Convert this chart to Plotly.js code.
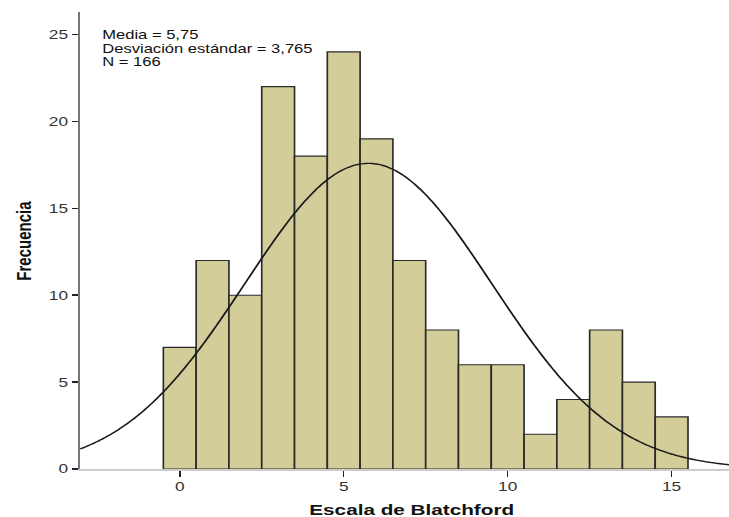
<!DOCTYPE html>
<html>
<head>
<meta charset="utf-8">
<script src="https://cdn.plot.ly/plotly-3.0.1.min.js"></script>
<style>
  html, body { margin: 0; padding: 0; background: #fff; overflow: hidden; }
  /* chart is laid out narrower and widened horizontally as a whole */
  #chart { width: 528px; height: 517px; transform: scaleX(1.38068); transform-origin: 0 0; }
</style>
</head>
<body>
<div id="chart"></div>
<script>
// Blatchford score histogram with fitted normal curve
const scores = [0, 1, 2, 3, 4, 5, 6, 7, 8, 9, 10, 11, 12, 13, 14, 15];
const counts = [7, 12, 10, 22, 18, 24, 19, 12, 8, 6, 6, 2, 4, 8, 5, 3];
const xTicks = [0, 5, 10, 15];
const yTicks = [0, 5, 10, 15, 20, 25];

// Summary statistics shown in the top-left box
const mean = 5.75;
const sd = 3.765;
const n = 166;
const binWidth = 1;
const statLines = ['Media = 5,75', 'Desviación estándar = 3,765', 'N = 166'];

// Normal curve scaled to counts, sampled along the x range
const xMin = -3.04, xMax = 16.75;
const curveX = [], curveY = [];
for (let i = 0; i <= 300; i++) {
  const x = xMin + (xMax - xMin) * i / 300;
  const z = (x - mean) / sd;
  curveX.push(x);
  curveY.push(n * binWidth / (sd * Math.sqrt(2 * Math.PI)) * Math.exp(-0.5 * z * z));
}

const bars = {
  type: 'bar',
  x: scores,
  y: counts,
  width: 1,
  marker: { color: '#D3CE99', line: { color: '#2a2a2a', width: 1.2 } },
  hoverinfo: 'x+y'
};

const curve = {
  type: 'scatter',
  mode: 'lines',
  x: curveX,
  y: curveY,
  line: { color: '#1a1a1a', width: 1.4, shape: 'spline' },
  hoverinfo: 'skip'
};

const textFont = 'Liberation Sans, Arial, sans-serif';
const plotTop = 12, plotH = 457;
const paperY = px => 1 - (px - plotTop) / plotH;

const statAnnotations = statLines.map((t, i) => ({
  xref: 'paper', yref: 'paper',
  x: 0.030, y: paperY(35 + i * 13.5),
  xanchor: 'left', yanchor: 'middle',
  showarrow: false,
  text: t,
  font: { family: textFont, size: 12, color: '#111' }
}));

const layout = {
  width: 528,
  height: 517,
  margin: { l: 57.6, r: 0, t: plotTop, b: 48 },
  paper_bgcolor: '#ffffff',
  plot_bgcolor: '#ffffff',
  showlegend: false,
  bargap: 0,
  font: { family: textFont, size: 12.5, color: '#333' },
  xaxis: {
    range: [xMin, xMax],
    tickvals: xTicks,
    ticktext: xTicks.map(String),
    ticks: 'outside',
    ticklen: 6,
    tickwidth: 1.1,
    tickcolor: '#222',
    showline: true,
    linecolor: '#cccccc',
    linewidth: 1.5,
    showgrid: false,
    zeroline: false,
    tickfont: { size: 12.5, color: '#333' },
    automargin: false
  },
  yaxis: {
    range: [0, 26.3],
    tickvals: yTicks,
    ticktext: yTicks.map(String),
    ticks: 'outside',
    ticklen: 5,
    tickwidth: 1.5,
    tickcolor: '#222',
    showline: true,
    linecolor: '#777777',
    linewidth: 1.2,
    showgrid: false,
    zeroline: false,
    tickfont: { size: 12.5, color: '#333' },
    automargin: false
  },
  annotations: statAnnotations.concat([
    {
      xref: 'x', yref: 'paper',
      x: 7.05, y: paperY(509),
      xanchor: 'center', yanchor: 'middle',
      showarrow: false,
      text: 'Escala de Blatchford',
      font: { family: textFont, size: 15, weight: 'bold', color: '#111' }
    },
    {
      xref: 'paper', yref: 'paper',
      x: (16.7 - 57.6) / 470.4, y: paperY(240.5),
      xanchor: 'center', yanchor: 'middle',
      textangle: -90,
      showarrow: false,
      text: 'Frecuencia',
      font: { family: textFont, size: 15, weight: 'bold', color: '#111' }
    }
  ])
};

Plotly.newPlot('chart', [bars, curve], layout, { displayModeBar: false, staticPlot: true });
</script>
</body>
</html>
